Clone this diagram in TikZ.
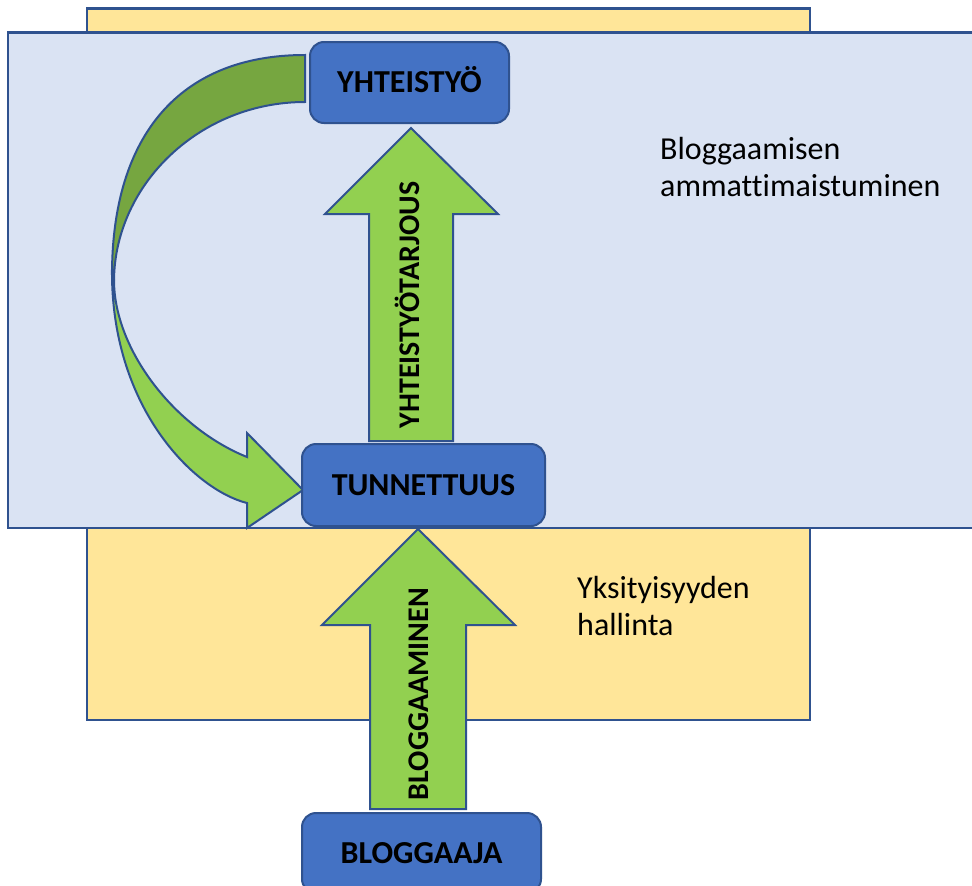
\documentclass[tikz,border=0pt]{standalone}
\usepackage{fontspec}
\setmainfont{Carlito}[Ligatures={NoCommon}]
\usetikzlibrary{calc}
\definecolor{ylw}{HTML}{FFE699}
\definecolor{lbl}{HTML}{DAE3F3}
\definecolor{bbox}{HTML}{4472C4}
\definecolor{grn}{HTML}{92D050}
\definecolor{dgrn}{HTML}{76A640}
\definecolor{edge}{HTML}{2F528F}
\pgfdeclarelayer{bg}
\pgfsetlayers{bg,main}
\begin{document}
\begin{tikzpicture}[x=1pt,y=-1pt,
  region/.style={draw=edge, line width=2.5pt},
  stagebox/.style={draw=edge, line width=2pt, fill=bbox, rounded corners=14pt,
    font=\fontsize{32}{37}\selectfont\bfseries, text height=20.6pt, text depth=0pt, inner sep=0pt},
  blockarrow/.style={draw=edge, line width=2pt, fill=grn, line join=miter},
  vlabel/.style={rotate=90, anchor=base, font=\fontsize{30}{35}\selectfont\bfseries, inner sep=0pt},
  plain/.style={anchor=base west, font=\fontsize{32}{37}\selectfont, align=left, inner sep=0pt}
]
\useasboundingbox (0,0) rectangle (972,886);
\node[stagebox, minimum width=199pt, minimum height=81pt] (yht) at (409.5,82.5) {YHTEISTYÖ};
\node[stagebox, minimum width=243pt, minimum height=82pt] (tun) at (423.5,485) {TUNNETTUUS};
\node[stagebox, minimum width=239pt, minimum height=80pt] (blo) at (421.5,853) {BLOGGAAJA};
\begin{pgfonlayer}{bg}
\fill[white] (0,0) rectangle (972,886);
\draw[region, fill=ylw] (87,8.5) rectangle (810,720);
\draw[region, fill=lbl] (8,32.5) rectangle (985,528);
% curved arrow
\draw[blockarrow, fill=dgrn] (305,55) .. controls (180,55) and (112,135) .. (112,275)
  -- (114,280) .. controls (115,184) and (200,102) .. (305,102) -- cycle;
\draw[blockarrow] (112,275) .. controls (113,410) and (195,490) .. (247,503)
  -- (247,528) -- (303,490) -- (247,433) -- (247,457)
  .. controls (175,428) and (114,350) .. (114,280) -- cycle;
% straight arrows
\draw[blockarrow] (411,128) -- (498,214) -- (453,214) -- (453,441) -- (369,441)
  -- (369,214) -- (325,214) -- cycle;
\draw[blockarrow] (418,529) -- (515,625) -- (466,625) -- (466,809) -- (370,809)
  -- (370,625) -- (322,625) -- cycle;
\end{pgfonlayer}
\node[vlabel] (lab1) at (419,305) {YHTEISTYÖTARJOUS};
\node[vlabel] (lab2) at (428,694) {BLOGGAAMINEN};
\node[plain] (t1) at (660,196) {Bloggaamisen\\ammattimaistuminen};
\node[plain] (t2) at (577,635) {Yksityisyyden\\hallinta};
\end{tikzpicture}
\end{document}
